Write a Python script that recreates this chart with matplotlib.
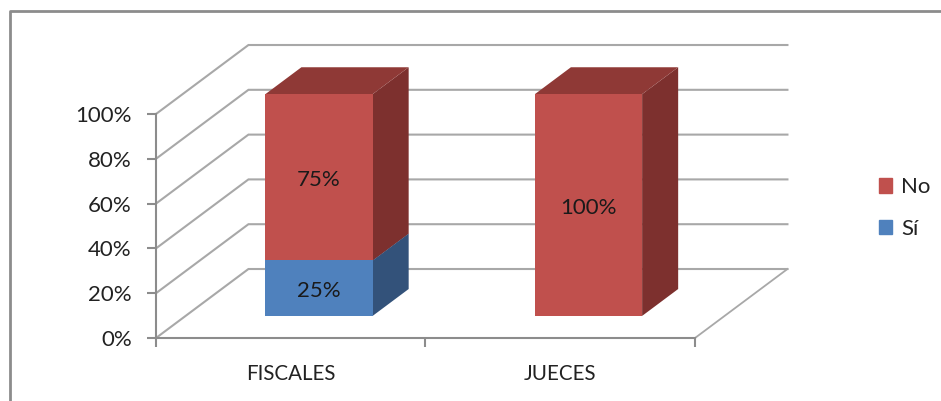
import matplotlib
matplotlib.use("Agg")
import matplotlib.pyplot as plt
from matplotlib.lines import Line2D
from matplotlib.patches import Patch

categorias = ["FISCALES", "JUECES"]
valores_si = [25, 0]
valores_no = [75, 100]
etiquetas_y = ["0%", "20%", "40%", "60%", "80%", "100%"]
niveles_y = [0, 20, 40, 60, 80, 100]

ROJO = "#C0504D"
ROJO_LADO = "#7D302E"
ROJO_TOPE = "#8F3936"
AZUL = "#4F81BD"
AZUL_LADO = "#33527A"
AZUL_TOPE = "#3A5F8E"
GRIS = "#A8A8A8"
GRIS_EJE = "#8C8C8C"

# Proyeccion oblicua: cuanto se desplaza el fondo en unidades de los ejes
FONDO_X = 0.343
FONDO_Y = 30.8
ANCHO = 0.398
PROF_INI = 0.32
PROF_FIN = 0.71
# Las columnas quedan algo mas atras que el eje y se ven un poco mas bajas
ESCALA = 0.99

W, H = 941, 401


def proyectar(x, y, d):
    return x + d * FONDO_X, y * ESCALA + d * FONDO_Y


def cara(ax, puntos, color, z):
    xs = [p[0] for p in puntos]
    ys = [p[1] for p in puntos]
    ax.fill(xs, ys, color=color, lw=0, zorder=z, clip_on=False)


def segmento(ax, x0, y0, y1, color, lado, tope):
    """Dibuja un tramo de la columna 3D: frente, lateral y tapa."""
    x1 = x0 + ANCHO
    frente = [proyectar(x0, y0, PROF_INI), proyectar(x1, y0, PROF_INI),
              proyectar(x1, y1, PROF_INI), proyectar(x0, y1, PROF_INI)]
    lateral = [proyectar(x1, y0, PROF_INI), proyectar(x1, y0, PROF_FIN),
               proyectar(x1, y1, PROF_FIN), proyectar(x1, y1, PROF_INI)]
    tapa = [proyectar(x0, y1, PROF_INI), proyectar(x1, y1, PROF_INI),
            proyectar(x1, y1, PROF_FIN), proyectar(x0, y1, PROF_FIN)]
    cara(ax, lateral, lado, 3)
    cara(ax, tapa, tope, 3)
    cara(ax, frente, color, 4)


def etiqueta(ax, x, y, valor):
    ax.annotate(f"{valor}%", proyectar(x, y, PROF_INI), xytext=(0, -2.2),
                textcoords="offset points", ha="center", va="center",
                fontsize=16, color="#1a1a1a", zorder=5)


plt.rcParams["font.family"] = ["Lato", "DejaVu Sans"]
fig = plt.figure(figsize=(W / 100, H / 100), dpi=100)
ax = fig.add_axes([156 / W, 1 - 338 / H, (695 - 156) / W, (338 - 114) / H])
ax.set_xlim(0, 2)
ax.set_ylim(0, 100)
ax.patch.set_alpha(0)

# Marco exterior del grafico
fig.add_artist(Line2D([10 / W, 10 / W, 1], [0, 1 - 11 / H, 1 - 11 / H],
                      color=GRIS_EJE, lw=2))

# Paredes: diagonales de la pared lateral y lineas de la pared del fondo
for nivel in niveles_y:
    x_f = FONDO_X
    y_f = nivel + FONDO_Y
    x_d = 2 + FONDO_X
    ax.plot([0, x_f, x_d], [nivel, y_f, y_f], color=GRIS, lw=1.5, zorder=1,
            clip_on=False, solid_joinstyle="miter")
ax.plot([2, 2 + FONDO_X], [0, FONDO_Y], color=GRIS, lw=1.3, zorder=1, clip_on=False)

# Columnas apiladas
for i in range(len(categorias)):
    x0 = i + 0.5 - ANCHO / 2 - 0.005
    si = valores_si[i]
    no = valores_no[i]
    if si > 0:
        segmento(ax, x0, 0, si, AZUL, AZUL_LADO, AZUL_TOPE)
        etiqueta(ax, x0 + ANCHO / 2, si / 2, si)
    segmento(ax, x0, si, si + no, ROJO, ROJO_LADO, ROJO_TOPE)
    etiqueta(ax, x0 + ANCHO / 2, si + no / 2, no)

# Ejes
for lado in ["top", "right"]:
    ax.spines[lado].set_visible(False)
for lado in ["left", "bottom"]:
    ax.spines[lado].set_color(GRIS_EJE)
    ax.spines[lado].set_linewidth(1.5)
    ax.spines[lado].set_zorder(2)

ax.set_yticks(niveles_y)
ax.set_yticklabels(etiquetas_y, fontsize=16, color="#222222")
ax.tick_params(axis="y", length=6.5, width=1.5, color=GRIS_EJE, pad=11)
ax.set_xticks([0, 1, 2])
ax.set_xticklabels([])
ax.tick_params(axis="x", which="major", length=6.5, width=1.5, color=GRIS_EJE)
ax.set_xticks([0.5, 1.5], minor=True)
ax.set_xticklabels(categorias, minor=True, fontsize=14.8, color="#222222")
ax.tick_params(axis="x", which="minor", length=0, pad=18.5)

# Leyenda
marcas = [Patch(color=ROJO, label="No"), Patch(color=AZUL, label="Sí")]
fig.legend(handles=marcas, loc="center left",
           bbox_to_anchor=(872 / W, 1 - 208 / H), frameon=False, fontsize=16,
           handlelength=0.62, handleheight=0.62, handletextpad=0.4,
           labelspacing=0.95, labelcolor="#222222", borderpad=0.3, borderaxespad=0)

fig.savefig("out.png", dpi=100, facecolor="white")
